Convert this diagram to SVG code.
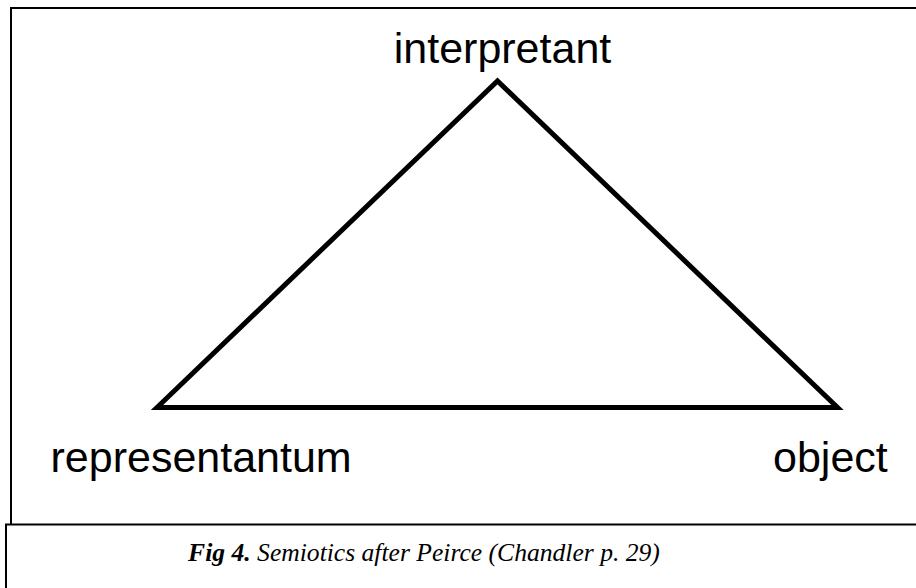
<svg xmlns="http://www.w3.org/2000/svg" width="916" height="588" viewBox="0 0 916 588">
<style>
.frame{fill:none;stroke:#000;stroke-width:2}
.edge{fill:none;stroke:#000;stroke-width:5;stroke-linejoin:miter;stroke-miterlimit:10}
.lbl{font-family:"Liberation Sans",Arial,sans-serif;font-size:43px;fill:#000}
.cap{font-family:"Liberation Serif","Times New Roman",serif;font-size:25.6px;font-style:italic;fill:#000}
</style>
<rect width="916" height="588" fill="#fff"/>
<g id="frames">
<path class="frame" d="M11,524.5 V8 H920"/>
<path class="frame" d="M6,590 V524.5 H920"/>
</g>
<g id="connectors">
<polygon class="edge" points="157,407.5 497.5,81 837.5,407.5"/>
</g>
<g id="interpretant"><text class="lbl" x="502.5" y="63" text-anchor="middle">interpretant</text></g>
<g id="representantum"><text class="lbl" x="50.5" y="472">representantum</text></g>
<g id="object"><text class="lbl" x="773" y="472">object</text></g>
<g id="caption"><text class="cap" x="424" y="561" text-anchor="middle"><tspan font-weight="bold">Fig 4.</tspan> Semiotics after Peirce (Chandler p. 29)</text></g>
</svg>
